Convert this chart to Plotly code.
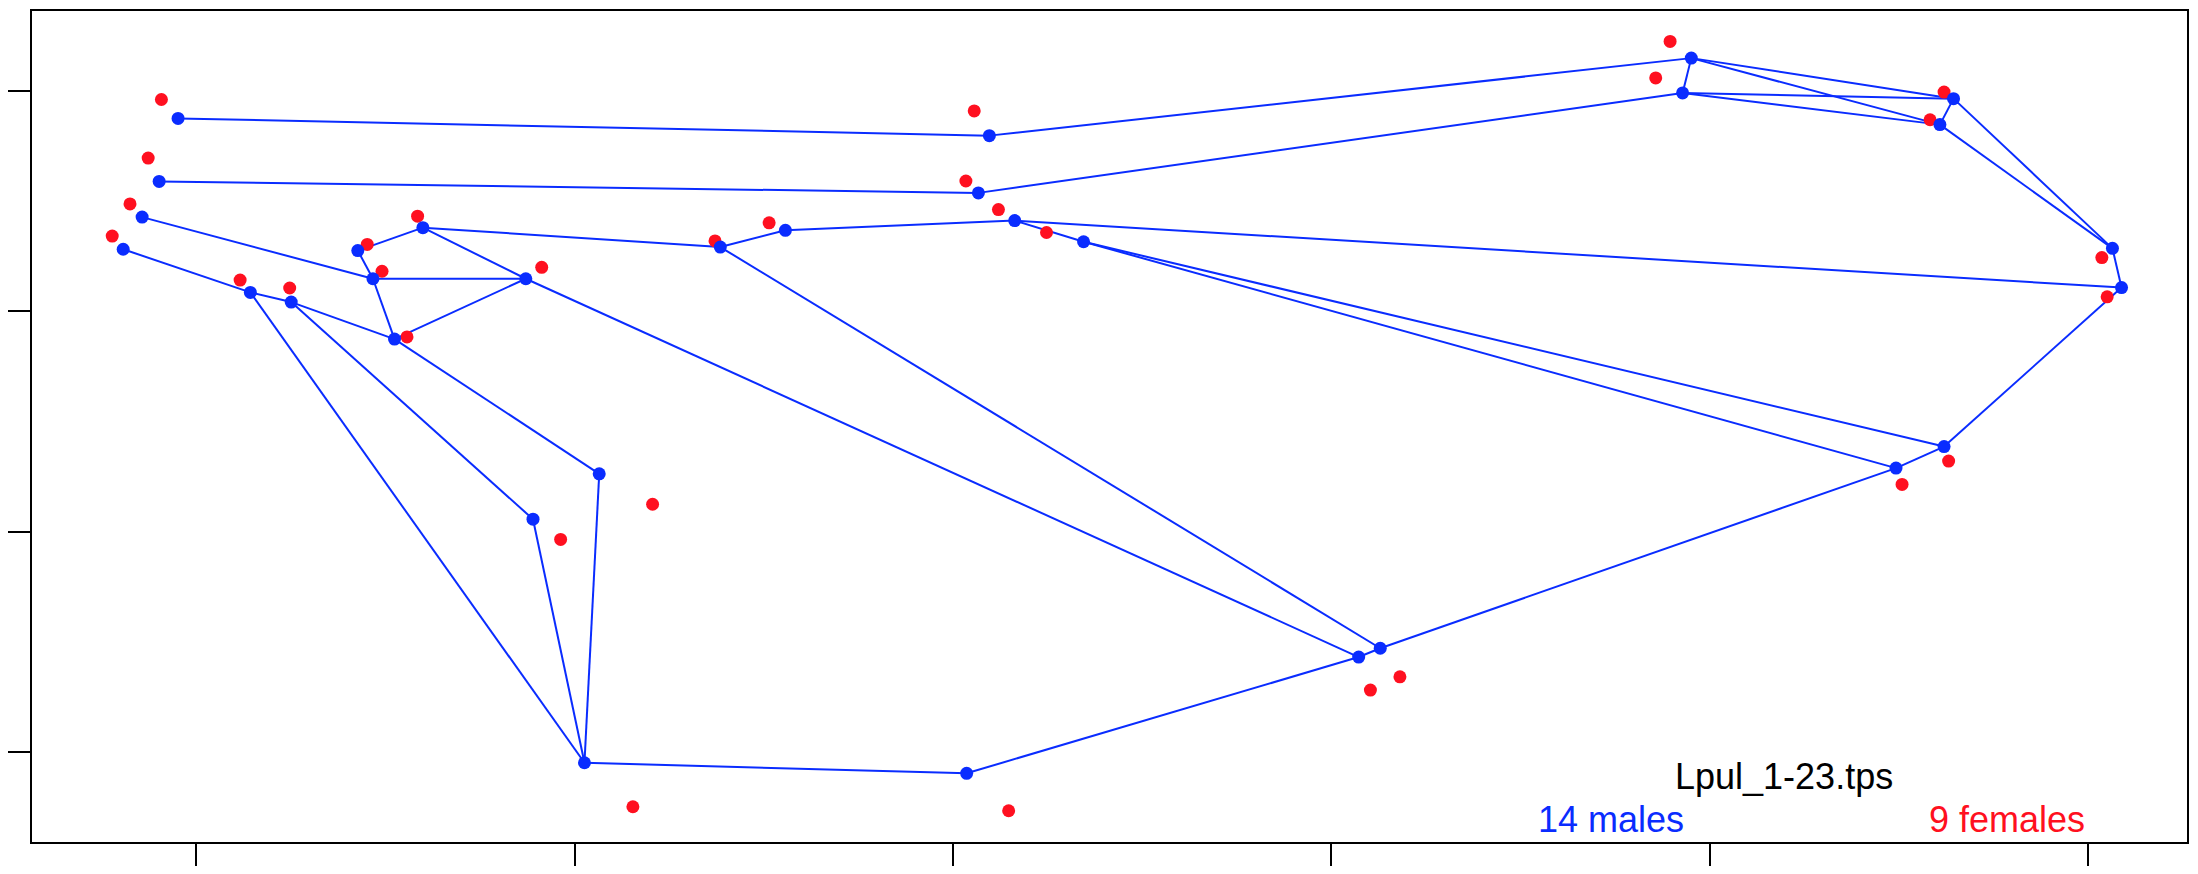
import plotly.graph_objects as go

# Mean landmark configuration, males (blue)
male_x = [-0.2048, -0.2098, -0.2143, -0.2193, -0.1857, -0.1749, -0.1573, -0.1401,
          -0.1533, -0.1129, -0.1476, -0.0615, -0.0443, 0.0096, 0.0067, 0.0163,
          0.0345, 0.1951, 0.1928, 0.2644, 0.2608, 0.3064, 0.3088, 0.2619,
          0.2492, 0.1129, 0.1072, 0.0036, -0.0935, -0.1110, -0.0974]
male_y = [0.0938, 0.0795, 0.0714, 0.0641, 0.0543, 0.0521, 0.0638, 0.0690,
          0.0574, 0.0574, 0.0437, 0.0646, 0.0684, 0.0899, 0.0769, 0.0706,
          0.0658, 0.1075, 0.0996, 0.0983, 0.0924, 0.0643, 0.0554, 0.0193,
          0.0144, -0.0265, -0.0285, -0.0549, 0.0131, 0.0028, -0.0525]

# Mean landmark configuration, females (red)
female_x = [-0.2092, -0.2127, -0.2175, -0.2222, -0.1884, -0.1753, -0.1548, -0.1415,
            -0.1509, -0.1087, -0.1443, -0.0629, 0.0056, 0.0034, 0.0120, -0.0486,
            0.0247, 0.1895, 0.1857, 0.2619, 0.2582, 0.3036, 0.3050, -0.0794,
            -0.1037, -0.0846, 0.1181, 0.1103, 0.0147, 0.2631, 0.2508]
female_y = [0.0981, 0.0848, 0.0744, 0.0671, 0.0571, 0.0553, 0.0652, 0.0716,
            0.0591, 0.0600, 0.0442, 0.0660, 0.0955, 0.0796, 0.0731, 0.0701,
            0.0679, 0.1113, 0.1030, 0.0998, 0.0935, 0.0622, 0.0533, 0.0062,
            -0.0018, -0.0625, -0.0330, -0.0360, -0.0634, 0.0160, 0.0107]

# Links between male landmarks (1-based indices)
links = [(1, 14), (14, 18), (2, 15), (15, 19), (18, 19), (18, 20), (18, 21),
         (19, 20), (19, 21), (20, 21), (20, 22), (21, 22), (22, 23), (23, 24),
         (16, 23), (3, 9), (4, 5), (5, 6), (6, 11), (5, 31), (6, 30), (11, 29),
         (30, 31), (29, 31), (7, 8), (7, 9), (9, 10), (9, 11), (8, 10), (11, 10),
         (8, 12), (12, 13), (13, 16), (16, 17), (10, 27), (12, 26), (31, 28),
         (28, 27), (27, 26), (26, 25), (25, 24), (17, 25), (17, 24)]

x_ticks = [-0.2, -0.1, 0.0, 0.1, 0.2, 0.3]
y_ticks = [-0.05, 0.0, 0.05, 0.1]

BLUE = "#0A2CFF"
RED = "#FF1020"

lx, ly = [], []
for a, b in links:
    lx += [male_x[a - 1], male_x[b - 1], None]
    ly += [male_y[a - 1], male_y[b - 1], None]

fig = go.Figure()
fig.add_trace(go.Scatter(x=lx, y=ly, mode="lines",
                         line=dict(color=BLUE, width=2), hoverinfo="skip",
                         showlegend=False))
fig.add_trace(go.Scatter(x=female_x, y=female_y, mode="markers",
                         marker=dict(color=RED, size=13, line=dict(width=0)),
                         name="females", showlegend=False))
fig.add_trace(go.Scatter(x=male_x, y=male_y, mode="markers",
                         marker=dict(color=BLUE, size=13, line=dict(width=0)),
                         name="males", showlegend=False))

font = "Liberation Sans, Arial, Helvetica, sans-serif"
fig.add_annotation(x=0.2197, y=-0.0556, xref="x", yref="y", text="Lpul_1-23.tps",
                   showarrow=False, font=dict(family=font, size=36, color="black"),
                   xanchor="center", yanchor="middle")
fig.add_annotation(x=0.1738, y=-0.0653, xref="x", yref="y", text="14 males",
                   showarrow=False, font=dict(family=font, size=36, color=BLUE),
                   xanchor="center", yanchor="middle")
fig.add_annotation(x=0.2784, y=-0.0653, xref="x", yref="y", text="9 females",
                   showarrow=False, font=dict(family=font, size=36, color=RED),
                   xanchor="center", yanchor="middle")

axis_common = dict(showgrid=False, zeroline=False, showticklabels=False,
                   showline=True, mirror=True, linecolor="black", linewidth=2,
                   ticks="outside", ticklen=23, tickwidth=2, tickcolor="black")

fig.update_xaxes(range=[-0.2434, 0.3261], tickvals=x_ticks, **axis_common)
fig.update_yaxes(range=[-0.0705, 0.1182], tickvals=y_ticks, **axis_common)

# page body adds an 8px margin, so the figure is sized to fit inside it
fig.update_layout(width=2182, height=858,
                  margin=dict(l=24, r=0.5, t=2.7, b=24.3, pad=0),
                  plot_bgcolor="white", paper_bgcolor="white",
                  showlegend=False)

fig.write_html("out.html")
